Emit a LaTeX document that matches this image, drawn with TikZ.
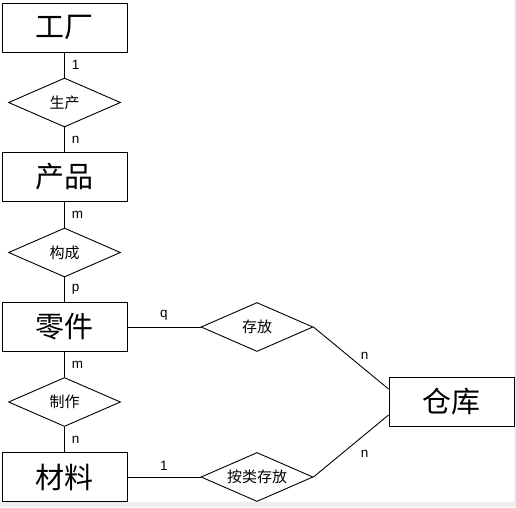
\documentclass[tikz,border=0pt]{standalone}
\usepackage{fontspec}
\setmainfont{Liberation Sans}
\newfontfamily\cjk{Noto Sans CJK SC}
\usetikzlibrary{shapes.geometric}
\definecolor{mygray}{gray}{0.93}

\begin{document}
\begin{tikzpicture}[x=1pt, y=-1pt, line width=0.9pt,
  entity/.style={draw, minimum width=125pt, minimum height=49pt, inner sep=0pt,
    font=\cjk\fontsize{29}{29}\selectfont},
  relation/.style={draw, diamond, aspect=2.3, minimum width=112pt, minimum height=49pt,
    inner sep=0pt, font=\cjk\fontsize{15}{15}\selectfont},
  card/.style={font=\fontsize{13.5}{13.5}\selectfont, inner sep=1pt}]
\fill[mygray] (0,0) rectangle (516,507);
\fill[white] (0,0) rectangle (514,502);
\useasboundingbox (0,0) rectangle (516,507);
% entities
\node[entity] (gongchang) at (64.5,27.5) {工厂};
\node[entity] (chanpin) at (64.5,177) {产品};
\node[entity] (lingjian) at (64.5,327) {零件};
\node[entity] (cailiao) at (64.5,477) {材料};
\node[entity] (cangku) at (451.5,402) {仓库};
% relations
\node[relation] (shengchan) at (64.5,102.5) {生产};
\node[relation] (goucheng) at (64.5,252.5) {构成};
\node[relation] (zhizuo) at (64.5,402) {制作};
\node[relation] (cunfang) at (257,327) {存放};
\node[relation] (anlei) at (257,477) {按类存放};
% connectors
\draw (gongchang) -- (shengchan) node[card, midway, right=6pt] {1};
\draw (shengchan) -- (chanpin) node[card, midway, right=6pt] {n};
\draw (chanpin) -- (goucheng) node[card, midway, right=6pt] {m};
\draw (goucheng) -- (lingjian) node[card, midway, right=6pt] {p};
\draw (lingjian) -- (zhizuo) node[card, midway, right=6pt] {m};
\draw (zhizuo) -- (cailiao) node[card, midway, right=6pt] {n};
\draw (lingjian) -- (cunfang) node[card, midway, above=5pt] {q};
\draw (cailiao) -- (anlei) node[card, midway, above=5pt] {1};
\draw (cunfang.east) -- ([yshift=13pt]cangku.west) node[card, pos=0.6, above right=1pt, yshift=2pt] {n};
\draw (anlei.east) -- ([yshift=-13pt]cangku.west) node[card, pos=0.6, below right=1pt, yshift=-8pt] {n};
\end{tikzpicture}
\end{document}
